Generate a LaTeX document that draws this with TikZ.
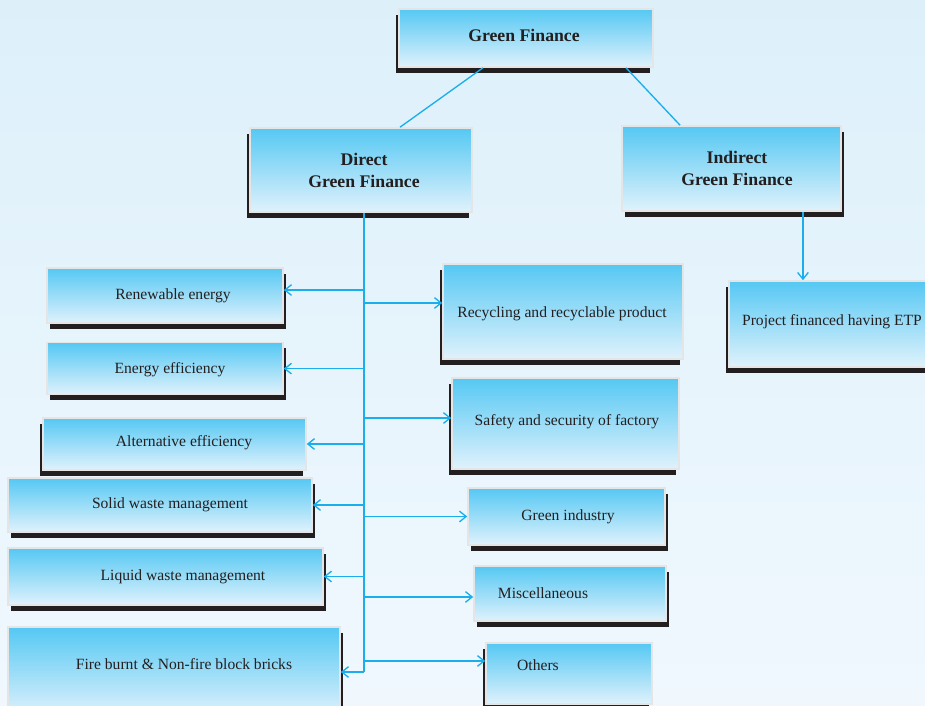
\documentclass[tikz,border=0pt]{standalone}
\usepackage{fontspec}
\setmainfont{Liberation Serif}
\usetikzlibrary{positioning, arrows.meta}
\definecolor{bgtop}{HTML}{DDF0FA}
\definecolor{bgbot}{HTML}{F0F8FE}
\definecolor{boxtop}{HTML}{55C8F3}
\definecolor{boxbot}{HTML}{E0F2FC}
\definecolor{shadowc}{HTML}{231F20}
\definecolor{linec}{HTML}{1AAEEC}
\tikzset{
    greenbox/.style={draw=gray!20, line width=1.2pt, top color=boxtop, bottom color=boxbot, inner sep=0pt},
    lbox/.style={greenbox, preaction={fill=shadowc, transform canvas={xshift=-2.6pt, yshift=-4.4pt}}},
    rbox/.style={greenbox, preaction={fill=shadowc, transform canvas={xshift=2.6pt, yshift=-4.4pt}}},
    txt/.style={text=shadowc, font=\fontsize{11.7}{14}\selectfont},
    headtxt/.style={txt, align=center, font=\fontsize{13.3}{16.5}\selectfont\bfseries},
    link/.style={draw=linec, line width=1pt},
    arr/.style={link, -{Straight Barb[length=5pt, width=8pt]}}
}

\begin{document}
\begin{tikzpicture}[x=0.75pt, y=-0.75pt]
  \useasboundingbox (0,0) rectangle (925,706);
  \clip (0,0) rectangle (925,706);
  \fill[top color=bgtop, bottom color=bgbot] (0,0) rectangle (925,706);
  % top level
  \node(title)[lbox, minimum width=190.5pt, minimum height=43.5pt, label={[headtxt, shift={(-2,-3)}]center:Green Finance}] at (526,38) {};
  \node(direct)[lbox, minimum width=166.5pt, minimum height=63pt, label={[headtxt, shift={(3,0)}]center:{Direct\\Green Finance}}] at (361,170) {};
  \node(indirect)[rbox, minimum width=164.25pt, minimum height=63.75pt, label={[headtxt, shift={(5.5,0)}]center:{Indirect\\Green Finance}}] at (731.5,168.5) {};
  \node(project)[lbox, minimum width=154.5pt, minimum height=64.5pt, label={[txt, shift={(0,-2)}]center:Project financed having ETP}] at (832,324) {};
  % left column
  \node(renew)[rbox, minimum width=177pt, minimum height=41.25pt, label={[txt, shift={(8,0)}]center:Renewable energy}] at (165,295.5) {};
  \node(energy)[rbox, minimum width=177pt, minimum height=39pt, below=13.5pt of renew, label={[txt, shift={(5,1)}]center:Energy efficiency}] {};
  \node(alt)[lbox, minimum width=197.25pt, minimum height=39pt, label={[txt, shift={(9.5,-1)}]center:Alternative efficiency}] at (174.5,444) {};
  \node(solid)[rbox, minimum width=228pt, minimum height=40.5pt, label={[txt, shift={(10,0)}]center:Solid waste management}] at (160,505) {};
  \node(liquid)[rbox, minimum width=236.25pt, minimum height=42.75pt, label={[txt, shift={(17.5,0)}]center:Liquid waste management}] at (165.5,576.5) {};
  \node(fire)[rbox, minimum width=249pt, minimum height=67.5pt, label={[txt, shift={(10,-8)}]center:Fire burnt \& Non-fire block bricks}] at (174,672) {};
  % right column
  \node(recyc)[lbox, minimum width=180pt, minimum height=71.25pt, label={[txt, shift={(-1,2.5)}]center:Recycling and recyclable product}] at (563,311.5) {};
  \node(safety)[lbox, minimum width=170.25pt, minimum height=68.25pt, label={[txt, shift={(1.5,-1.5)}]center:Safety and security of factory}] at (565.5,423.5) {};
  \node(green)[rbox, minimum width=147.75pt, minimum height=42.75pt, label={[txt, shift={(1.5,0)}]center:Green industry}] at (566.5,516.5) {};
  \node(misc)[rbox, minimum width=144pt, minimum height=41.25pt, label={[txt, shift={(-27,0)}]center:Miscellaneous}] at (570,593.5) {};
  \node(others)[lbox, minimum width=124.5pt, minimum height=45.75pt, label={[txt, shift={(-31,-8.5)}]center:Others}] at (569,673.5) {};
  % connectors
  \coordinate (tr) at ([xshift=2.25pt]direct.south);
  \draw[link]([xshift=-32.25pt]title.south)--([xshift=29.25pt]direct.north);
  \draw[link]([xshift=75pt]title.south)--([xshift=-38.6pt]indirect.north);
  \draw[arr]([xshift=53.6pt]indirect.south) coordinate (drop)--(drop |- project.north);
  \draw[link](tr)--(fire.east -| tr);
  \draw[arr]([yshift=4.1pt]renew.east -| tr)--([yshift=4.1pt]renew.east);
  \draw[arr](energy.east -| tr)--(energy.east);
  \draw[arr](alt.east -| tr)--(alt.east);
  \draw[arr](solid.east -| tr)--(solid.east);
  \draw[arr](liquid.east -| tr)--(liquid.east);
  \draw[arr](fire.east -| tr)--(fire.east);
  \draw[arr]([yshift=6.4pt]recyc.west -| tr)--([yshift=6.4pt]recyc.west);
  \draw[arr]([yshift=4.1pt]safety.west -| tr)--([yshift=4.1pt]safety.west);
  \draw[arr](green.west -| tr)--(green.west);
  \draw[arr]([yshift=-2.6pt]misc.west -| tr)--([yshift=-2.6pt]misc.west);
  \draw[arr]([yshift=9.4pt]others.west -| tr)--([yshift=9.4pt]others.west);
\end{tikzpicture}
\end{document}
